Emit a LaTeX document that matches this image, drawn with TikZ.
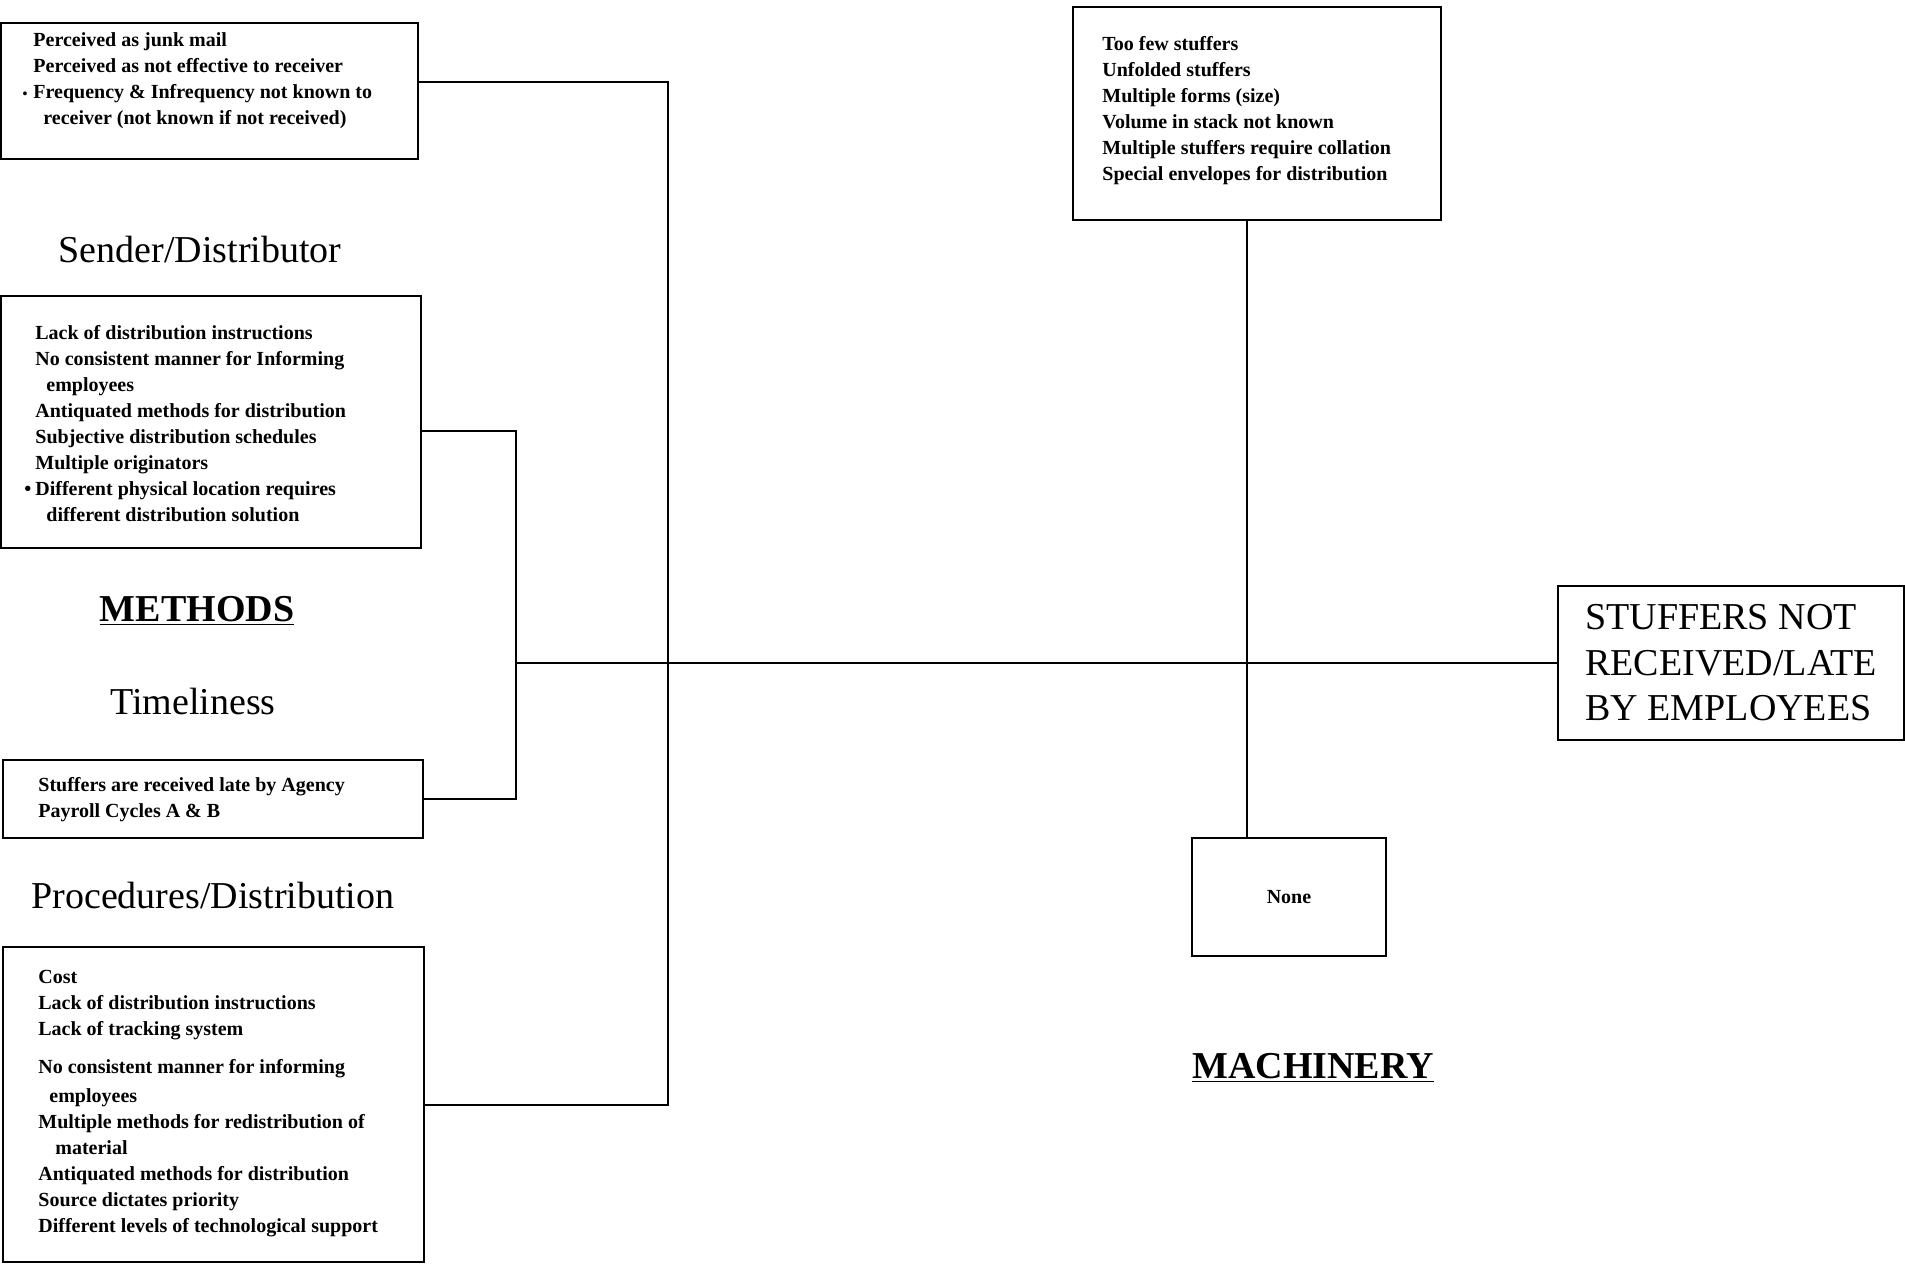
\documentclass[tikz,border=0pt]{standalone}
\usepackage{fontspec}
\setmainfont{Liberation Serif}
\usetikzlibrary{positioning}

\begin{document}
\begin{tikzpicture}[
    x=0.5pt, y=0.5pt,
    box/.style={draw, line width=1pt, inner sep=0pt, anchor=north west},
    items/.style={align=left, inner sep=0pt, font=\fontsize{10}{13}\selectfont\bfseries},
    head/.style={font=\fontsize{19}{23}\selectfont},
    bone/.style={line width=1pt}
]
\useasboundingbox (0,0) rectangle (1905,-1264);

% cause boxes on the left
\node[box, minimum width=208.5pt, minimum height=68pt] (percv) at (0,-22) {};
\node[items, below right=5.25pt and 16.5pt of percv.north west] (percvtxt)
  {Perceived as junk mail\\
   Perceived as not effective to receiver\\
   \llap{{\scriptsize\textbullet}\hspace{3pt}}Frequency \& Infrequency not known to\\
   \hspace{5pt}receiver (not known if not received)};

\node[head] (sender) at (200,-249) {Sender/Distributor};

\node[box, minimum width=210pt, minimum height=126pt] (methbox) at (0,-295) {};
\node[items, below right=15.25pt and 17.5pt of methbox.north west] (methtxt)
  {Lack of distribution instructions\\
   No consistent manner for Informing\\
   \hspace{5.5pt}employees\\
   Antiquated methods for distribution\\
   Subjective distribution schedules\\
   Multiple originators\\
   \llap{\textbullet\hspace{2pt}}Different physical location requires\\
   \hspace{5.5pt}different distribution solution};

\node[head, font=\fontsize{19}{23}\selectfont\bfseries] (methods) at (197,-611) {\underline{METHODS}};
\node[head] (timely) at (193,-701) {Timeliness};

\node[box, minimum width=210pt, minimum height=39pt] (timebox) at (2,-759) {};
\node[items, below right=9.25pt and 18pt of timebox.north west] (timetxt)
  {Stuffers are received late by Agency\\
   Payroll Cycles A \& B};

\node[head] (proced) at (213,-895) {Procedures/Distribution};

\node[box, minimum width=210.5pt, minimum height=157.5pt] (procbox) at (2,-946) {};
\node[items, below right=11.75pt and 18pt of procbox.north west] (proctxt)
  {Cost\\
   Lack of distribution instructions\\
   Lack of tracking system\\[6pt]
   No consistent manner for informing\\[1.5pt]
   \hspace{5.5pt}employees\\
   Multiple methods for redistribution of\\
   \hspace{8.5pt}material\\
   Antiquated methods for distribution\\
   Source dictates priority\\
   Different levels of technological support};

% machinery branch
\node[box, minimum width=184pt, minimum height=106.5pt] (machbox) at (1072,-6) {};
\node[items, below right=15.25pt and 15pt of machbox.north west] (machtxt)
  {Too few stuffers\\
   Unfolded stuffers\\
   Multiple forms (size)\\
   Volume in stack not known\\
   Multiple stuffers require collation\\
   Special envelopes for distribution};

\node[box, anchor=center, minimum width=97pt, minimum height=59pt,
  font=\fontsize{10}{13}\selectfont\bfseries] (nonebox) at (1289,-897) {None};
\node[head, font=\fontsize{19}{23}\selectfont\bfseries] (machin) at (1313,-1068) {\underline{MACHINERY}};

% effect
\node[box, anchor=center, minimum width=173pt, minimum height=77pt, align=left,
  font=\fontsize{19}{22.75}\selectfont] (effect) at (1731,-663)
  {STUFFERS NOT\\RECEIVED/LATE\\BY EMPLOYEES};

% fishbone lines
\coordinate (jo) at (668,-663);
\coordinate (ji) at (516,-663);
\coordinate (jm) at (1247,-663);
\draw[bone] ([yshift=4.5pt]percv.east) -| (jo) |- (procbox.east);
\draw[bone] ([yshift=-4.5pt]methbox.east) -| (ji) |- (timebox.east);
\draw[bone] (ji) -- (effect.west);
\draw[bone] (machbox.south -| jm) -- (nonebox.north -| jm);
\end{tikzpicture}
\end{document}
